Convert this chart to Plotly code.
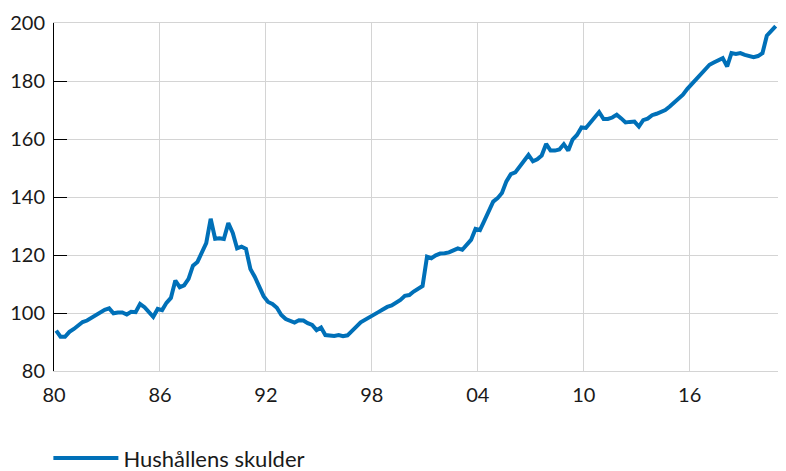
import plotly.graph_objects as go

# Household debt (Hushållens skulder), quarterly, 1980 Q1 - 2020 Q4
debt_1980s = [93.9, 91.8, 91.8, 93.5, 94.5, 95.8, 96.9, 97.4, 98.3, 99.2, 100.2, 101.1,
              101.6, 99.9, 100.2, 100.2, 99.5, 100.4, 100.3, 103.1, 102.0, 100.2, 98.7, 101.4,
              101.0, 103.5, 105.2, 111.2, 108.9, 109.5, 111.8, 116.3, 117.6, 120.8, 124.1, 132.5,
              125.6, 125.8, 125.5, 131.0]
debt_1990s = [127.6, 122.3, 122.9, 122.1, 115.2, 112.5, 108.8, 105.8, 103.8, 103.1, 101.8, 99.3,
              97.9, 97.4, 96.7, 97.5, 97.4, 96.5, 95.9, 94.1, 95.0, 92.4, 92.3, 92.1,
              92.4, 92.0, 92.3, 93.6, 95.3, 96.8, 97.6, 98.4, 99.3, 100.3, 101.2, 102.1,
              102.6, 103.4, 104.5, 105.9]
debt_2000s = [106.2, 107.4, 108.2, 109.3, 119.4, 118.9, 119.9, 120.5, 120.6, 120.9, 121.6, 122.3,
              121.8, 123.5, 125.2, 129.0, 128.6, 131.8, 134.8, 138.4, 139.6, 141.4, 145.4, 147.9,
              148.5, 150.5, 152.3, 154.5, 152.3, 153.0, 154.3, 158.3, 156.0, 156.0, 156.4, 158.2,
              156.0, 159.8, 161.4, 164.0]
debt_2010s = [163.8, 165.5, 167.6, 169.3, 166.9, 166.9, 167.4, 168.4, 167.1, 165.7, 165.9, 166.0,
              164.3, 166.5, 167.0, 168.2, 168.7, 169.2, 170.0, 171.2, 172.6, 173.8, 175.3, 177.3,
              179.0, 180.6, 182.2, 183.8, 185.6, 186.4, 187.0, 187.9, 185.0, 189.6, 189.3, 189.6,
              189.0, 188.6, 188.2, 188.6]
debt_2020s = [189.6, 195.6, 197.5, 198.9]

debt = debt_1980s + debt_1990s + debt_2000s + debt_2010s + debt_2020s
start_year = 1980
quarter_months = [2, 5, 8, 11]  # mid-quarter positions
dates = [f"{start_year + i // 4}-{quarter_months[i % 4]:02d}-15" for i in range(len(debt))]

tick_years = [1980, 1986, 1992, 1998, 2004, 2010, 2016]
tick_text = ["80", "86", "92", "98", "04", "10", "16"]
y_ticks = [80, 100, 120, 140, 160, 180, 200]

FONT = "Lato"
BLUE = "#0070B8"
GRID = "#D4D4D4"

fig = go.Figure()
fig.add_trace(go.Scatter(x=dates, y=debt, mode="lines", name="Hushållens skulder",
                         line=dict(color=BLUE, width=4)))
# invisible trace to carry the right-hand tick axis
fig.add_trace(go.Scatter(x=[dates[0]], y=[debt[0]], yaxis="y2", mode="lines",
                         line=dict(width=0), showlegend=False, hoverinfo="skip"))

# the page body adds an 8px offset, so the figure is sized to fit the window
fig.update_layout(
    width=778, height=463,
    margin=dict(l=46, r=3, t=15, b=100, autoexpand=False),
    paper_bgcolor="white", plot_bgcolor="white",
    font=dict(family=FONT, size=20, color="#1a1a1a"),
    xaxis=dict(type="date", range=["1980-01-01", "2021-04-15"],
               tickvals=[f"{y}-01-01" for y in tick_years], ticktext=tick_text,
               showgrid=True, gridcolor=GRID, gridwidth=1,
               showline=True, linecolor=GRID, linewidth=1, mirror=True,
               ticks="", zeroline=False, ticklabelstandoff=6, automargin=False),
    yaxis=dict(range=[80, 200], tickvals=y_ticks, showgrid=True, gridcolor=GRID, gridwidth=1,
               showline=True, linecolor="black", linewidth=1,
               ticks="inside", ticklen=13, tickcolor="black", tickwidth=1,
               zeroline=False, ticklabelstandoff=4, automargin=False),
    yaxis2=dict(range=[80, 200], tickvals=y_ticks, overlaying="y", side="right",
                showgrid=False, showline=False, showticklabels=False,
                ticks="outside", ticklen=3, tickcolor="black", zeroline=False,
                automargin=False),
    showlegend=True,
    legend=dict(orientation="h", x=-0.0077, xanchor="left", y=-0.19, yanchor="top",
                itemwidth=65, font=dict(size=22), bgcolor="rgba(0,0,0,0)"),
)

fig.write_html("out.html")
